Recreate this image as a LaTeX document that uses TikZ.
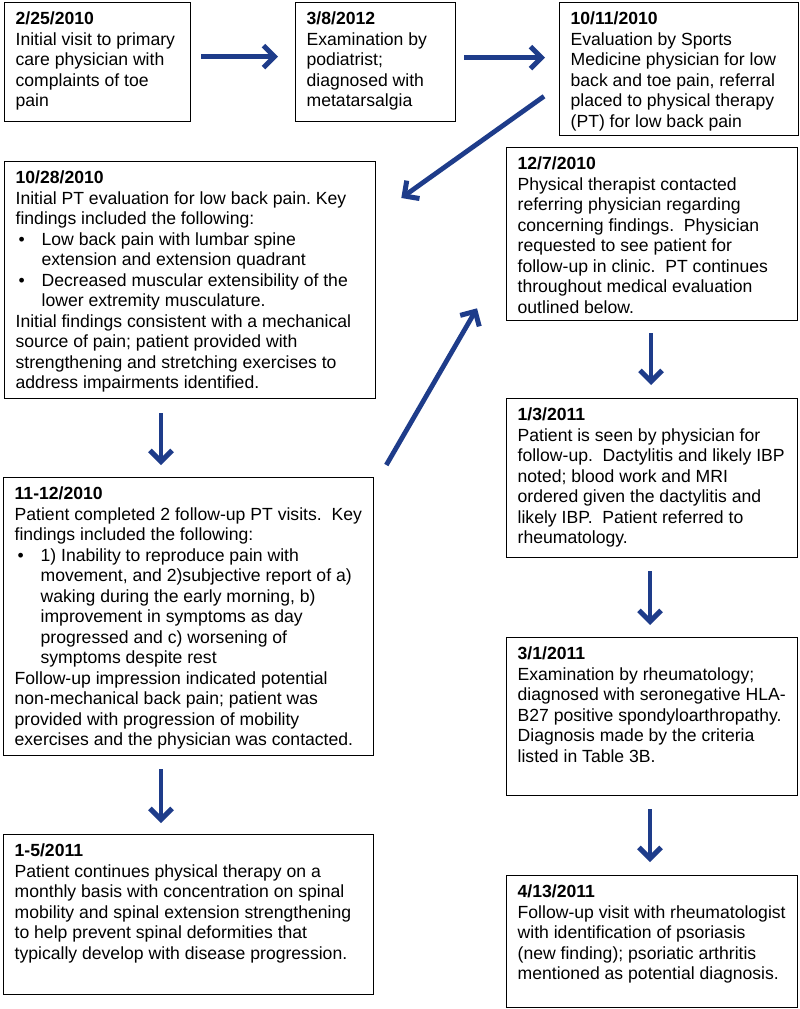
\documentclass[tikz,border=0pt]{standalone}
\usepackage{fontspec}
\setmainfont{Liberation Sans}
\usetikzlibrary{arrows.meta,calc}
\definecolor{arrowblue}{RGB}{30,60,138}
\frenchspacing
\newcommand\evtext[3]{\parbox[t][#2pt][t]{#1pt}{\fontsize{17.6pt}{20.5pt}\selectfont\frenchspacing\raggedright\leftskip=11pt\rightskip=-15pt plus 1fil\parindent=0pt\rule{0pt}{22pt}#3}}
\newcommand\bul{\makebox[26pt][l]{\hspace{3pt}\textbullet}}
\newcommand\ind{\hspace*{26pt}}
\tikzset{
  evt/.style={draw=black, line width=1.3pt, inner sep=0pt, anchor=north west, fill=white},
  flow/.style={draw=arrowblue, line width=4.8pt, -{Straight Barb[length=11pt,width=22pt,line width=5pt]}}
}
\begin{document}
\begin{tikzpicture}[x=1pt,y=-1pt]
\useasboundingbox[fill=white] (0,0) rectangle (800,1009);

\node[evt] (b1) at (4,2) {\evtext{186}{119}{\textbf{2/25/2010}\\
Initial visit to primary\\
care physician with\\
complaints of toe\\
pain}};

\node[evt] (b2) at (295,2) {\evtext{160}{119}{\textbf{3/8/2012}\\
Examination by\\
podiatrist;\\
diagnosed with\\
metatarsalgia}};

\node[evt] (b3) at (559,2) {\evtext{239}{133}{\textbf{10/11/2010}\\
Evaluation by Sports\\
Medicine physician for low\\
back and toe pain, referral\\
placed to physical therapy\\
(PT) for low back pain}};

\node[evt] (b4) at (4,161) {\evtext{371}{237}{\textbf{10/28/2010}\\
Initial PT evaluation for low back pain. Key\\
findings included the following:\\
\bul Low back pain with lumbar spine\\
\ind extension and extension quadrant\\
\bul Decreased muscular extensibility of the\\
\ind lower extremity musculature.\\
Initial findings consistent with a mechanical\\
source of pain; patient provided with\\
strengthening and stretching exercises to\\
address impairments identified.}};

\node[evt] (b5) at (3,477) {\evtext{370}{278}{\textbf{11-12/2010}\\
Patient completed 2 follow-up PT visits.\ \ Key\\
findings included the following:\\
\bul 1) Inability to reproduce pain with\\
\ind movement, and 2)subjective report of a)\\
\ind waking during the early morning, b)\\
\ind improvement in symptoms as day\\
\ind progressed and c) worsening of\\
\ind symptoms despite rest\\
Follow-up impression indicated potential\\
non-mechanical back pain; patient was\\
provided with progression of mobility\\
exercises and the physician was contacted.}};

\node[evt] (b6) at (3,834) {\evtext{370}{160}{\textbf{1-5/2011}\\
Patient continues physical therapy on a\\
monthly basis with concentration on spinal\\
mobility and spinal extension strengthening\\
to help prevent spinal deformities that\\
typically develop with disease progression.}};

\node[evt] (b7) at (506,147) {\evtext{291}{173}{\textbf{12/7/2010}\\
Physical therapist contacted\\
referring physician regarding\\
concerning findings.\ \ Physician\\
requested to see patient for\\
follow-up in clinic.\ \ PT continues\\
throughout medical evaluation\\
outlined below.}};

\node[evt] (b8) at (506,398) {\evtext{291}{159}{\textbf{1/3/2011}\\
Patient is seen by physician for\\
follow-up.\ \ Dactylitis and likely IBP\\
noted; blood work and MRI\\
ordered given the dactylitis and\\
likely IBP.\ \ Patient referred to\\
rheumatology.}};

\node[evt] (b9) at (506,637) {\evtext{291}{158}{\textbf{3/1/2011}\\
Examination by rheumatology;\\
diagnosed with seronegative HLA-\\
B27 positive spondyloarthropathy.\\
Diagnosis made by the criteria\\
listed in Table 3B.}};

\node[evt] (b10) at (506,875) {\evtext{291}{132}{\textbf{4/13/2011}\\
Follow-up visit with rheumatologist\\
with identification of psoriasis\\
(new finding); psoriatic arthritis\\
mentioned as potential diagnosis.}};

\draw[flow] ($(b1.east)+(10,-5.5)$) -- ($(b2.west)+(-17,-5.5)$);
\draw[flow] ($(b2.east)+(8,-4.5)$) -- ($(b3.west)+(-14,-11.5)$);
\draw[flow] ($(b3.south west)+(-15,-40)$) -- ($(b4.north east)+(25,37)$);
\draw[flow] ($(b4.south west)+(157,14)$) -- ($(b5.north west)+(158,-12)$);
\draw[flow] ($(b5.north east)+(12,-12)$) -- ($(b7.south west)+(-29,-13)$);
\draw[flow] ($(b5.south west)+(158,13)$) -- ($(b6.north west)+(158,-11)$);
\draw[flow] ($(b7.south west)+(145,12)$) -- ($(b8.north west)+(145,-13)$);
\draw[flow] ($(b8.south west)+(144,13)$) -- ($(b9.north west)+(144,-12)$);
\draw[flow] ($(b9.south west)+(144,13)$) -- ($(b10.north west)+(144,-13)$);
\end{tikzpicture}
\end{document}
